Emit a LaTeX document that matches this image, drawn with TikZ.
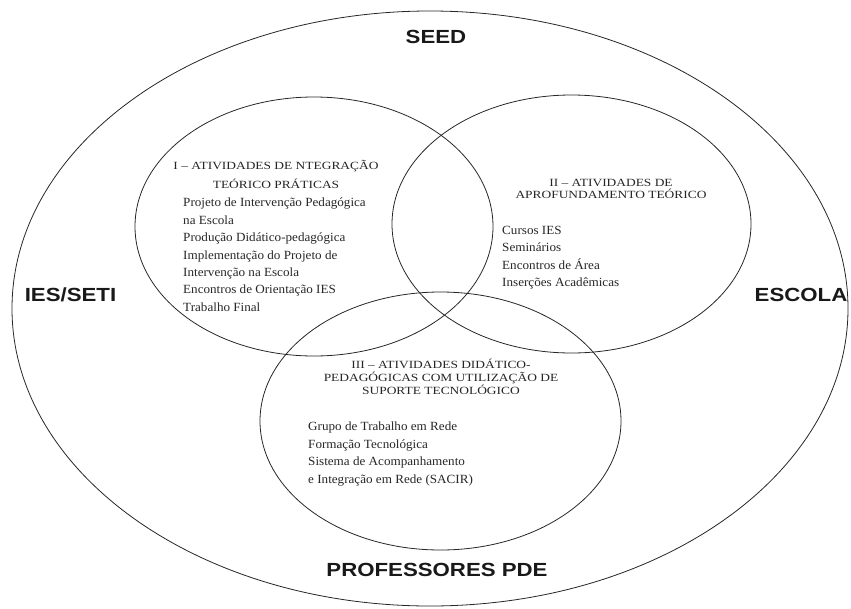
\documentclass[tikz,border=0pt]{standalone}
\usepackage{fontspec}
\setmainfont{Liberation Serif}
\setsansfont{Liberation Sans}
\usepackage{tikz}

\tikzset{
  conjunto/.style={draw=black!85, line width=0.8pt},
  rotulo/.style={font=\sffamily\bfseries\fontsize{19}{21}\selectfont, text=black!90, xscale=1.17},
  titulo/.style={font=\fontsize{11}{13}\selectfont, align=center, text=black!85, xscale=1.22, inner sep=0pt},
  lista/.style={font=\fontsize{12.5}{17.4}\selectfont, align=left, anchor=north west, text=black!85, xscale=1.05, inner sep=0pt}
}

\begin{document}
\begin{tikzpicture}[x=1pt,y=-1pt]
			%%%%% START %%%%%
			\useasboundingbox (0,0) rectangle (851,608);
			
			\draw[conjunto] (430,308.5) ellipse (418 and 297.5);
			
			\draw[conjunto] (314,226.5) ellipse (179 and 129.5);
			\draw[conjunto] (571.5,224) ellipse (179.5 and 129);
			\draw[conjunto] (440.5,421) ellipse (180.5 and 129);
			
			\node[rotulo] (seed) at (436,36.5) {SEED};
			\node[rotulo] (ies) at (70.5,294.5) {IES/SETI};
			\node[rotulo] (escola) at (801,294.5) {ESCOLA};
			\node[rotulo] (pde) at (437,570) {PROFESSORES PDE};
			
			\node[titulo] (tit1) at (276,174.5) {I -- ATIVIDADES DE NTEGRAÇÃO\\[6pt]TEÓRICO PRÁTICAS};
			\node[lista] (lista1) at (183,198) {Projeto de Intervenção Pedagógica\\na Escola\\Produção Didático-pedagógica\\Implementação do Projeto de\\Intervenção na Escola\\Encontros de Orientação IES\\Trabalho Final};
			
			\node[titulo] (tit2) at (611,188.5) {II -- ATIVIDADES DE\\[-1pt]APROFUNDAMENTO TEÓRICO};
			\node[lista] (lista2) at (502,226) {Cursos IES\\Seminários\\Encontros de Área\\Inserções Acadêmicas};
			
			\node[titulo] (tit3) at (441,377) {III -- ATIVIDADES DIDÁTICO-\\PEDAGÓGICAS COM UTILIZAÇÃO DE\\SUPORTE TECNOLÓGICO};
			\node[lista] (lista3) at (308,422) {Grupo de Trabalho em Rede\\Formação Tecnológica\\Sistema de Acompanhamento\\e Integração em Rede (SACIR)};
			
			%%%%% END %%%%%
\end{tikzpicture}
\end{document}
